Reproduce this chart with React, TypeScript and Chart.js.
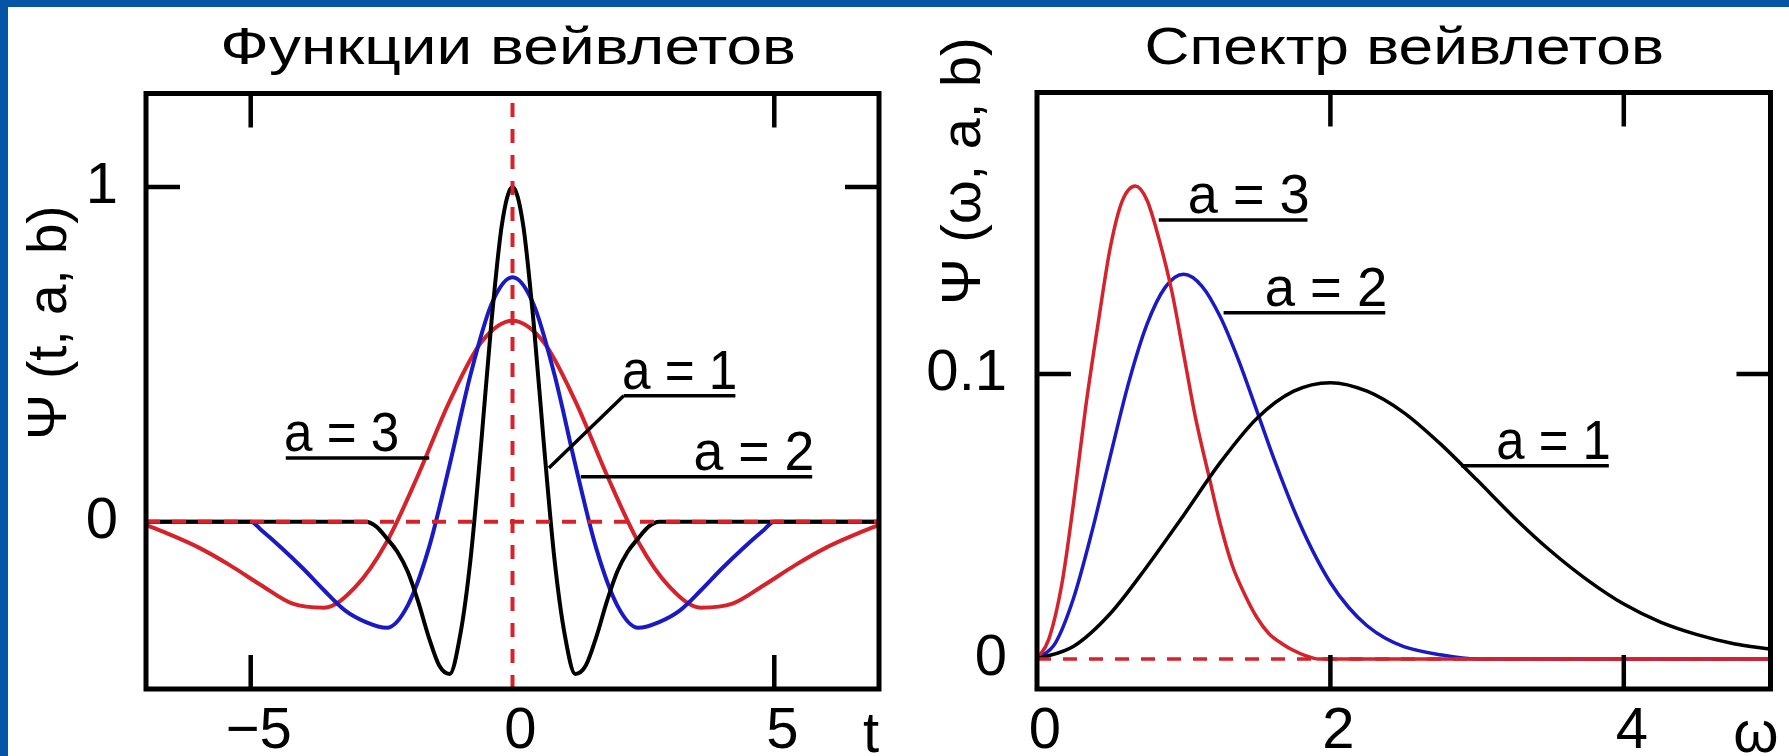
import React, { useEffect, useRef } from "react";
import { Chart, registerables } from "chart.js";

Chart.register(...registerables);

// ---------------- data: wavelet functions psi(t, a, b) ----------------
const tA1 = [-7, -2.8, -2.6, -2.4, -2.2, -2.0, -1.8, -1.6, -1.4, -1.2, -1.0, -0.8, -0.6, -0.4, -0.2, 0, 0.2, 0.4, 0.6, 0.8, 1.0, 1.2, 1.4, 1.6, 1.8, 2.0, 2.2, 2.4, 2.6, 2.8, 7];
const psiA1 = [0, 0, -0.015, -0.05, -0.09, -0.15, -0.24, -0.345, -0.43, -0.455, -0.34, -0.11, 0.23, 0.6, 0.89, 1.0, 0.89, 0.6, 0.23, -0.11, -0.34, -0.455, -0.43, -0.345, -0.24, -0.15, -0.09, -0.05, -0.015, 0, 0];

const tA2 = [-7, -5.0, -4.8, -4.4, -4.0, -3.6, -3.2, -2.8, -2.4, -2.0, -1.6, -1.2, -0.8, -0.4, 0, 0.4, 0.8, 1.2, 1.6, 2.0, 2.4, 2.8, 3.2, 3.6, 4.0, 4.4, 4.8, 5.0, 7];
const psiA2 = [0, 0, -0.025, -0.08, -0.14, -0.205, -0.265, -0.3, -0.317, -0.25, -0.08, 0.17, 0.44, 0.65, 0.73, 0.65, 0.44, 0.17, -0.08, -0.25, -0.317, -0.3, -0.265, -0.205, -0.14, -0.08, -0.025, 0, 0];

const tA3 = [-7, -6.6, -6.0, -5.4, -4.8, -4.2, -3.6, -3.0, -2.4, -1.8, -1.2, -0.6, 0, 0.6, 1.2, 1.8, 2.4, 3.0, 3.6, 4.2, 4.8, 5.4, 6.0, 6.6, 7];
const psiA3 = [-0.01, -0.035, -0.077, -0.13, -0.19, -0.245, -0.257, -0.195, -0.06, 0.14, 0.36, 0.535, 0.6, 0.535, 0.36, 0.14, -0.06, -0.195, -0.257, -0.245, -0.19, -0.13, -0.077, -0.035, -0.01];

// ---------------- data: wavelet spectra psi(omega, a, b) ----------------
const wA1 = [0, 0.25, 0.5, 0.75, 1.0, 1.25, 1.5, 1.75, 2.0, 2.25, 2.5, 2.75, 3.0, 3.25, 3.5, 3.75, 4.0, 4.25, 4.5, 4.75, 5.0];
const specA1 = [0, 0.0045, 0.016, 0.0325, 0.0505, 0.069, 0.0845, 0.094, 0.097, 0.094, 0.0865, 0.0755, 0.0628, 0.0498, 0.038, 0.0278, 0.0193, 0.013, 0.0086, 0.0054, 0.0035];

const wA2 = [0, 0.125, 0.25, 0.375, 0.5, 0.625, 0.75, 0.875, 1.0, 1.125, 1.25, 1.375, 1.5, 1.625, 1.75, 1.875, 2.0, 2.125, 2.25, 2.375, 2.5, 2.75, 3.0, 5.0];
const specA2 = [0, 0.0056, 0.0215, 0.0448, 0.0713, 0.097, 0.1175, 0.1305, 0.135, 0.1308, 0.12, 0.1047, 0.0869, 0.0689, 0.0525, 0.0384, 0.0268, 0.0181, 0.0117, 0.0073, 0.0044, 0.0015, 0, 0];

const wA3 = [0, 0.08, 0.17, 0.25, 0.33, 0.42, 0.5, 0.58, 0.67, 0.75, 0.83, 0.92, 1.0, 1.08, 1.17, 1.25, 1.33, 1.42, 1.5, 1.58, 1.67, 1.75, 1.83, 1.92, 5.0];
const specA3 = [0, 0.0069, 0.0265, 0.0551, 0.0877, 0.119, 0.1445, 0.1606, 0.166, 0.161, 0.1477, 0.1288, 0.1069, 0.0848, 0.0646, 0.0472, 0.033, 0.0222, 0.0145, 0.009, 0.0054, 0.003, 0.0012, 0, 0];

// ---------------- axes ----------------
const leftXRange = [-7, 7];
const leftYRange = [-0.5, 1.279];
const rightXRange = [0, 5];
const rightYRange = [-0.0105, 0.1988];

const leftXTicks = [-5, 0, 5];
const leftXLabels = ["\u22125", "0", "5"];
const leftYTicks = [0, 1];
const leftYLabels = ["0", "1"];
const rightXTicks = [0, 2, 4];
const rightXLabels = ["0", "2", "4"];
const rightYTicks = [0, 0.1];
const rightYLabels = ["0", "0.1"];

const leftMarksX = [-5, 5];
const leftMarksY = [1];
const rightMarksX = [2, 4];
const rightMarksY = [0.1];

const seriesNames = ["a = 1", "a = 2", "a = 3"];
const leftTitle = "Функции вейвлетов";
const rightTitle = "Спектр вейвлетов";
const leftYTitle = "Ψ (t, a, b)";
const rightYTitle = "Ψ (ω, a, b)";
const leftXEnd = "t";
const rightXEnd = "ω";

// ---------------- styling ----------------
const FONT = "'Liberation Sans', Arial, sans-serif";
const TICK_SIZE = 58;
const RED = "rgb(214, 34, 42)";
const BLUE = "rgb(26, 26, 196)";
const BLACK = "#000";
const TICK_LEN = 34;

type Note = {
  text: string;
  from: number;
  to: number;
  lineY: number;
  lineFrom: number;
  lineTo: number;
  leaderX?: number;
  leaderY?: number;
};

type Spec = {
  title: string;
  titleLeft: number;
  titleRight: number;
  yTitle: string;
  yTitleX: number;
  yTitleBottom: number;
  yTitleTop: number;
  endLabel: string;
  endX: number;
  marksX: number[];
  marksY: number[];
  notes: Note[];
};

const zip = (xs: number[], ys: number[]) => xs.map((x, i) => ({ x, y: ys[i] }));

function drawFit(ctx: CanvasRenderingContext2D, text: string, x: number, y: number, w: number, size: number) {
  ctx.save();
  ctx.font = `${size}px ${FONT}`;
  ctx.textAlign = "left";
  ctx.textBaseline = "alphabetic";
  const m = ctx.measureText(text);
  const ink = m.actualBoundingBoxRight + m.actualBoundingBoxLeft;
  const sx = w / ink;
  ctx.translate(x, y);
  ctx.scale(sx, 1);
  ctx.fillText(text, m.actualBoundingBoxLeft, 0);
  ctx.restore();
}

function decor(spec: Spec) {
  return {
    id: "decor",
    afterDraw(chart: any) {
      const { ctx, chartArea: a, scales } = chart;
      const xs = scales.x;
      const ys = scales.y;
      ctx.save();
      ctx.fillStyle = BLACK;
      ctx.strokeStyle = BLACK;
      ctx.lineCap = "butt";
      // frame
      ctx.lineWidth = 5;
      ctx.strokeRect(a.left, a.top, a.right - a.left, a.bottom - a.top);
      // inner tick marks on all sides
      ctx.lineWidth = 4.5;
      ctx.beginPath();
      for (const v of spec.marksX) {
        const px = xs.getPixelForValue(v);
        ctx.moveTo(px, a.bottom);
        ctx.lineTo(px, a.bottom - TICK_LEN);
        ctx.moveTo(px, a.top);
        ctx.lineTo(px, a.top + TICK_LEN);
      }
      for (const v of spec.marksY) {
        const py = ys.getPixelForValue(v);
        ctx.moveTo(a.left, py);
        ctx.lineTo(a.left + TICK_LEN, py);
        ctx.moveTo(a.right, py);
        ctx.lineTo(a.right - TICK_LEN, py);
      }
      ctx.stroke();
      // curve labels
      ctx.lineWidth = 3.5;
      for (const n of spec.notes) {
        const ly = ys.getPixelForValue(n.lineY);
        const x0 = xs.getPixelForValue(n.from);
        const x1 = xs.getPixelForValue(n.to);
        drawFit(ctx, n.text, x0, ly - 7, x1 - x0, 56);
        ctx.beginPath();
        const lx0 = xs.getPixelForValue(n.lineFrom);
        ctx.moveTo(lx0, ly);
        ctx.lineTo(xs.getPixelForValue(n.lineTo), ly);
        if (n.leaderX !== undefined && n.leaderY !== undefined) {
          ctx.moveTo(lx0, ly);
          ctx.lineTo(xs.getPixelForValue(n.leaderX), ys.getPixelForValue(n.leaderY));
        }
        ctx.stroke();
      }
      // title
      drawFit(ctx, spec.title, spec.titleLeft, 64, spec.titleRight - spec.titleLeft, 52);
      // rotated y title
      ctx.save();
      ctx.translate(spec.yTitleX, spec.yTitleBottom);
      ctx.rotate(-Math.PI / 2);
      drawFit(ctx, spec.yTitle, 0, 0, spec.yTitleBottom - spec.yTitleTop, 56);
      ctx.restore();
      // axis end label
      ctx.font = `${TICK_SIZE}px ${FONT}`;
      ctx.textAlign = "center";
      ctx.textBaseline = "alphabetic";
      ctx.fillText(spec.endLabel, spec.endX, 752);
      ctx.restore();
    },
  };
}

function lineSet(label: string, data: any[], color: string, width: number, order: number, dashed = false) {
  return {
    label,
    data,
    borderColor: color,
    backgroundColor: color,
    borderWidth: width,
    borderDash: dashed ? [14, 12] : [],
    pointRadius: 0,
    fill: false,
    order,
    cubicInterpolationMode: dashed ? "default" : "monotone",
    tension: 0,
  };
}

function makeConfig(opts: {
  datasets: any[];
  xRange: number[];
  yRange: number[];
  xTicks: number[];
  xLabels: string[];
  yTicks: number[];
  yLabels: string[];
  yAxisWidth: number;
  yPad: number;
  padRight: number;
  top: number;
  xAxisHeight: number;
  spec: Spec;
}) {
  const tickFont = { family: FONT, size: TICK_SIZE };
  return {
    type: "line",
    data: { datasets: opts.datasets },
    plugins: [decor(opts.spec)],
    options: {
      animation: false,
      responsive: false,
      events: [],
      layout: { padding: { left: 0, right: opts.padRight, top: opts.top, bottom: 0 } },
      plugins: { legend: { display: false }, tooltip: { enabled: false }, title: { display: false } },
      elements: { point: { radius: 0 } },
      scales: {
        x: {
          type: "linear",
          position: "bottom",
          min: opts.xRange[0],
          max: opts.xRange[1],
          afterBuildTicks: (s: any) => {
            s.ticks = opts.xTicks.map((v) => ({ value: v }));
          },
          afterFit: (s: any) => {
            s.height = opts.xAxisHeight;
          },
          grid: { display: false, drawTicks: false },
          border: { display: false },
          ticks: {
            autoSkip: false,
            maxRotation: 0,
            padding: 8,
            labelOffset: 8,
            color: BLACK,
            font: tickFont,
            callback: (v: number) => {
              const i = opts.xTicks.findIndex((t) => Math.abs(t - v) < 1e-9);
              return i >= 0 ? opts.xLabels[i] : "";
            },
          },
        },
        y: {
          type: "linear",
          position: "left",
          min: opts.yRange[0],
          max: opts.yRange[1],
          afterBuildTicks: (s: any) => {
            s.ticks = opts.yTicks.map((v) => ({ value: v }));
          },
          afterFit: (s: any) => {
            s.width = opts.yAxisWidth;
          },
          grid: { display: false, drawTicks: false },
          border: { display: false },
          ticks: {
            autoSkip: false,
            padding: opts.yPad,
            color: BLACK,
            font: tickFont,
            callback: (v: number) => {
              const i = opts.yTicks.findIndex((t) => Math.abs(t - v) < 1e-9);
              return i >= 0 ? opts.yLabels[i] : "";
            },
          },
        },
      },
    },
  };
}

export default function App() {
  const leftRef = useRef<HTMLCanvasElement>(null);
  const rightRef = useRef<HTMLCanvasElement>(null);

  useEffect(() => {
    document.body.style.margin = "0";
    const left = new Chart(
      leftRef.current as HTMLCanvasElement,
      makeConfig({
        datasets: [
          lineSet("zero", zip(leftXRange, [0, 0]), RED, 4, 0, true),
          lineSet("axis", zip([0, 0], leftYRange), RED, 4, 0, true),
          lineSet(seriesNames[0], zip(tA1, psiA1), BLACK, 4, 1),
          lineSet(seriesNames[1], zip(tA2, psiA2), BLUE, 4, 2),
          lineSet(seriesNames[2], zip(tA3, psiA3), RED, 4, 3),
        ],
        xRange: leftXRange,
        yRange: leftYRange,
        xTicks: leftXTicks,
        xLabels: leftXLabels,
        yTicks: leftYTicks,
        yLabels: leftYLabels,
        yAxisWidth: 146,
        yPad: 28,
        padRight: 21,
        top: 93.5,
        xAxisHeight: 67,
        spec: {
          title: leftTitle,
          titleLeft: 224,
          titleRight: 794,
          yTitle: leftYTitle,
          yTitleX: 66,
          yTitleBottom: 437,
          yTitleTop: 208,
          endLabel: leftXEnd,
          endX: 871,
          marksX: leftMarksX,
          marksY: leftMarksY,
          notes: [
            { text: seriesNames[2], from: -4.33, to: -2.2, lineY: 0.19, lineFrom: -4.33, lineTo: -1.59 },
            { text: seriesNames[0], from: 2.124, to: 4.257, lineY: 0.376, lineFrom: 2.124, lineTo: 4.257, leaderX: 0.695, leaderY: 0.16 },
            { text: seriesNames[1], from: 3.495, to: 5.724, lineY: 0.134, lineFrom: 1.305, lineTo: 5.724 },
          ],
        },
      }) as any
    );
    const right = new Chart(
      rightRef.current as HTMLCanvasElement,
      makeConfig({
        datasets: [
          lineSet("zero", zip(rightXRange, [0, 0]), RED, 3.5, 0, true),
          lineSet(seriesNames[0], zip(wA1, specA1), BLACK, 3.5, 1),
          lineSet(seriesNames[2], zip(wA3, specA3), RED, 3.5, 2),
          lineSet(seriesNames[1], zip(wA2, specA2), BLUE, 3.5, 3),
        ],
        xRange: rightXRange,
        yRange: rightYRange,
        xTicks: rightXTicks,
        xLabels: rightXLabels,
        yTicks: rightYTicks,
        yLabels: rightYLabels,
        yAxisWidth: 137,
        yPad: 30,
        padRight: 18.5,
        top: 92.5,
        xAxisHeight: 67,
        spec: {
          title: rightTitle,
          titleLeft: 247,
          titleRight: 762,
          yTitle: rightYTitle,
          yTitleX: 80,
          yTitleBottom: 302,
          yTitleTop: 40,
          endLabel: rightXEnd,
          endX: 856,
          marksX: rightMarksX,
          marksY: rightMarksY,
          notes: [
            { text: seriesNames[2], from: 1.041, to: 1.844, lineY: 0.1541, lineFrom: 0.83, lineTo: 1.844 },
            { text: seriesNames[1], from: 1.565, to: 2.374, lineY: 0.1215, lineFrom: 1.272, lineTo: 2.374 },
            { text: seriesNames[0], from: 3.143, to: 3.898, lineY: 0.0678, lineFrom: 2.891, lineTo: 3.898 },
          ],
        },
      }) as any
    );
    return () => {
      left.destroy();
      right.destroy();
    };
  }, []);

  return (
    <div style={{ position: "absolute", left: 0, top: 0, width: 1789, height: 756, background: "#0455a6", overflow: "hidden" }}>
      <div style={{ position: "absolute", left: 8, top: 7, width: 1781, height: 749, background: "#fff" }} />
      <canvas ref={leftRef} width={900} height={756} style={{ position: "absolute", left: 0, top: 0, width: 900, height: 756 }} />
      <canvas ref={rightRef} width={889} height={756} style={{ position: "absolute", left: 900, top: 0, width: 889, height: 756 }} />
    </div>
  );
}
